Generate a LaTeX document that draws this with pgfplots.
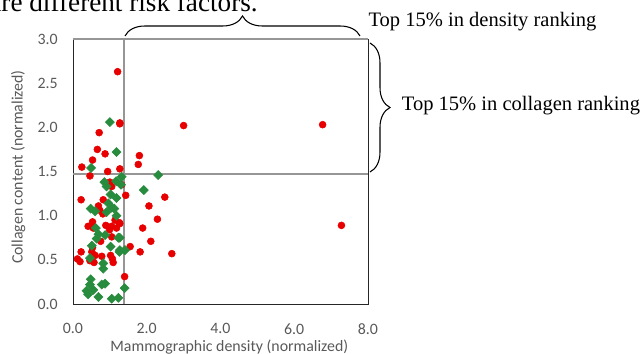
\documentclass[border=0pt]{standalone}
\usepackage{pgfplots}
\pgfplotsset{compat=1.18}
\usepackage{fontspec}
\setmainfont{Carlito}
\newfontfamily\timesf{Liberation Serif}
\usetikzlibrary{decorations.pathreplacing}
\definecolor{pred}{RGB}{232,0,0}
\definecolor{pgreen}{RGB}{40,140,62}
\definecolor{labgray}{RGB}{89,89,89}
\definecolor{linegray}{RGB}{150,150,150}

\pgfplotstableread{
x y
3.00 2.02
1.80 1.68
1.77 1.58
1.27 2.04
1.43 1.23
2.49 1.21
2.06 1.11
2.29 0.96
1.89 0.86
2.11 0.71
1.55 0.65
1.82 0.59
2.68 0.57
1.40 0.31
1.32 1.35
1.27 0.91
6.77 2.03
7.28 0.89
1.21 2.63
1.27 2.05
0.71 1.94
0.66 1.75
0.87 1.70
0.53 1.63
0.24 1.55
0.94 1.50
1.27 1.53
0.46 1.45
1.00 1.38
1.05 1.33
0.22 1.18
0.82 1.18
0.69 1.11
0.73 1.06
0.81 1.02
1.14 0.95
1.26 0.92
0.53 0.93
0.41 0.88
0.55 0.86
0.89 0.89
1.05 0.88
1.18 0.86
0.99 0.84
1.05 0.76
0.75 0.71
0.19 0.48
0.12 0.51
0.22 0.59
0.51 0.59
0.60 0.55
0.78 0.54
0.46 0.49
0.57 0.47
1.02 0.55
1.07 0.51
1.09 0.47
0.53 0.64
}\reddata

\pgfplotstableread{
x y
2.31 1.46
1.92 1.29
1.32 1.44
1.41 0.61
1.27 0.61
1.40 0.18
1.27 0.75
1.00 2.06
1.18 1.72
0.49 1.54
0.85 1.38
1.17 1.39
1.30 1.35
0.91 1.33
1.02 1.24
1.18 1.20
0.96 1.14
0.48 1.08
1.05 1.09
1.12 1.08
0.60 1.05
0.91 1.04
1.18 1.00
0.62 0.86
0.69 0.79
0.87 0.78
1.23 0.75
0.64 0.74
0.51 0.66
1.02 0.65
0.46 0.52
0.82 0.46
1.26 0.59
0.82 0.40
0.48 0.28
0.78 0.22
0.87 0.23
0.46 0.22
0.55 0.16
0.41 0.11
0.69 0.08
1.05 0.06
1.23 0.07
0.37 0.15
}\greendata

\begin{document}
\begin{tikzpicture}
\useasboundingbox (0,0) rectangle (483pt,265.5pt);
\begin{axis}[
  at={(54.75pt,37.5pt)}, anchor=south west,
  scale only axis, width=221.25pt, height=198.75pt,
  xmin=0, xmax=8, ymin=0, ymax=3,
  xtick={0,2,4,6,8}, ytick={0,0.5,1,1.5,2,2.5,3},
  xticklabels={0.0,2.0,4.0,6.0,8.0},
  yticklabels={0.0,0.5,1.0,1.5,2.0,2.5,3.0},
  major tick length=0pt,
  tick label style={font=\fontsize{11.9}{13}\selectfont, text=labgray},
  /pgf/number format/assume math mode=true,
  xticklabel style={yshift=-11pt},
  yticklabel style={xshift=-8pt},
  axis line style={black!85, line width=0.7pt},
  xlabel={Mammographic density (normalized)},
  ylabel={Collagen content (normalized)},
  label style={font=\fontsize{11.9}{13}\selectfont, text=labgray},
  xlabel style={at={(axis description cs:0.53,-0.162)}, anchor=center},
  ylabel style={at={(axis description cs:-0.186,0.517)}, anchor=center, rotate=0},
  clip=false,
]
\addplot[linegray, line width=1.1pt, no marks] coordinates {(1.38,0) (1.38,3)};
\addplot[linegray, line width=1.1pt, no marks] coordinates {(0,1.47) (8,1.47)};
\addplot[linegray, line width=1.1pt, no marks] coordinates {(0,3) (8,3)};
\addplot[only marks, mark=*, mark size=2.6pt, color=pred, mark options={draw=pred, fill=pred}] table[x=x,y=y] {\reddata};
\addplot[only marks, mark=square*, mark size=2.4pt, color=pgreen, mark options={rotate=45, draw=pgreen, fill=pgreen}] table[x=x,y=y] {\greendata};
\end{axis}
\draw[decorate, decoration={brace, amplitude=15pt}, line width=0.8pt] (93.75pt,238.5pt) -- (270pt,238.5pt);
\draw[decorate, decoration={brace, amplitude=15pt}, line width=0.8pt] (277.5pt,233.25pt) -- (277.5pt,136.5pt);
\node[anchor=base west, inner sep=0pt, font=\timesf\fontsize{15.4}{17}\selectfont] at (276.2pt,245.25pt) {Top 15\% in density ranking};
\node[anchor=base west, inner sep=0pt, font=\timesf\fontsize{15.4}{17}\selectfont] at (301.25pt,182.25pt) {Top 15\% in collagen ranking};
\node[anchor=base east, inner sep=0pt, font=\timesf\fontsize{20.4}{23}\selectfont] at (193.5pt,256.5pt) {are different risk factors.};
\end{tikzpicture}
\end{document}
